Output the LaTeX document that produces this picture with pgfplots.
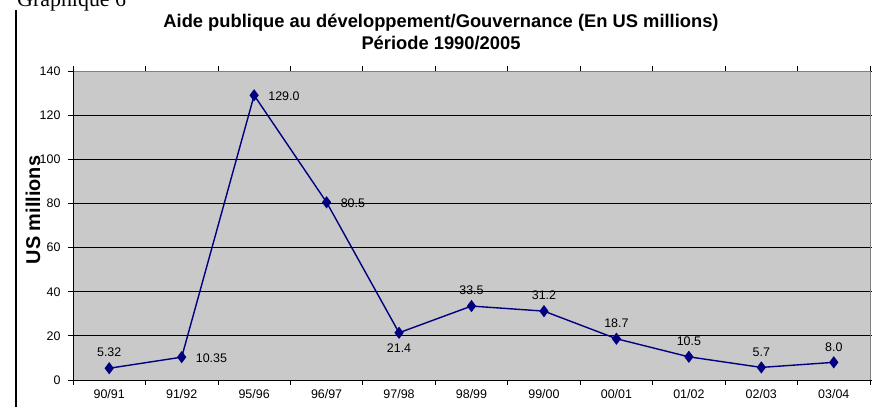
\documentclass[border=0pt]{standalone}
\usepackage{pgfplots}
\pgfplotsset{compat=1.18}
\usepackage{fontspec}
\setmainfont{Liberation Sans}
\newfontfamily\seriffont{Liberation Serif}
\definecolor{plotgray}{RGB}{201,201,201}
\definecolor{bordergray}{RGB}{128,128,128}
\definecolor{navyline}{RGB}{0,0,128}
\begin{document}
\begin{tikzpicture}
\useasboundingbox (0bp,0bp) rectangle (872bp,407bp);
\fill[white] (0bp,0bp) rectangle (872bp,407bp);
\clip (0bp,0bp) rectangle (872bp,407bp);
\draw[black, line width=1.5bp] (16bp,0bp) -- (16bp,397bp);
\node[anchor=base west, font=\seriffont\fontsize{22}{22}\selectfont, inner sep=0] at (17bp,400bp) {Graphique 6};
\node[font=\bfseries\fontsize{18.4}{18.4}\selectfont] at (441bp,384bp) {Aide publique au développement/Gouvernance (En US millions)};
\node[font=\bfseries\fontsize{18.4}{18.4}\selectfont] at (441bp,364bp) {Période 1990/2005};
\node[font=\bfseries\fontsize{20}{20}\selectfont, rotate=90] at (33bp,197bp) {US millions};
\begin{axis}[
  at={(73bp,27bp)}, anchor=south west,
  scale only axis, width=797bp, height=309bp,
  xmin=-0.5, xmax=10.5, ymin=0, ymax=140,
  axis background/.style={fill=plotgray},
  axis line style={draw=none},
  ytick={0,20,...,140},
  ymajorgrids, grid style={black, line width=0.8bp},
  xtick={-0.5,0.5,1.5,2.5,3.5,4.5,5.5,6.5,7.5,8.5,9.5,10.5},
  x tick label as interval,
  xticklabels={90/91,91/92,95/96,96/97,97/98,98/99,99/00,00/01,01/02,02/03,03/04},
  tick align=outside, major tick length=5bp,
  tick style={black, line width=0.8bp},
  ticklabel style={font=\fontsize{12.5}{12.5}\selectfont},
  /pgf/number format/assume math mode=true,
  yticklabel style={xshift=-4bp},
  xticklabel style={yshift=-1bp},
  clip=false,
  lab/.style={draw=none, mark=none, point meta=explicit symbolic, nodes near coords,
    every node near coord/.append style={anchor=#1, font=\fontsize{12.5}{12.5}\selectfont, black, inner sep=0pt}},
]
\draw[bordergray, line width=0.8bp] (axis cs:-0.5,140) -- (axis cs:10.5,140) -- (axis cs:10.5,0);
\draw[black, line width=1bp] (axis cs:-0.5,140) -- (axis cs:-0.5,0) -- (axis cs:10.5,0);
\addplot[navyline, line width=1.4bp, mark=diamond*, mark size=5bp,
  mark options={fill=navyline, draw=navyline}]
  coordinates {(0,5.32) (1,10.35) (2,129.0) (3,80.5) (4,21.4) (5,33.5) (6,31.2) (7,18.7) (8,10.5) (9,5.7) (10,8.0)};
\addplot[lab=south, every node near coord/.append style={yshift=11bp}] coordinates {(0,5.32) [5.32] (5,33.5) [33.5] (6,31.2) [31.2] (7,18.7) [18.7] (8,10.5) [10.5] (9,5.7) [5.7] (10,8.0) [8.0]};
\addplot[lab=west, every node near coord/.append style={xshift=14bp, yshift=-1bp}] coordinates {(1,10.35) [10.35] (2,129.0) [129.0] (3,80.5) [80.5]};
\addplot[lab=north, every node near coord/.append style={yshift=-11bp}] coordinates {(4,21.4) [21.4]};
\end{axis}
\end{tikzpicture}
\end{document}
